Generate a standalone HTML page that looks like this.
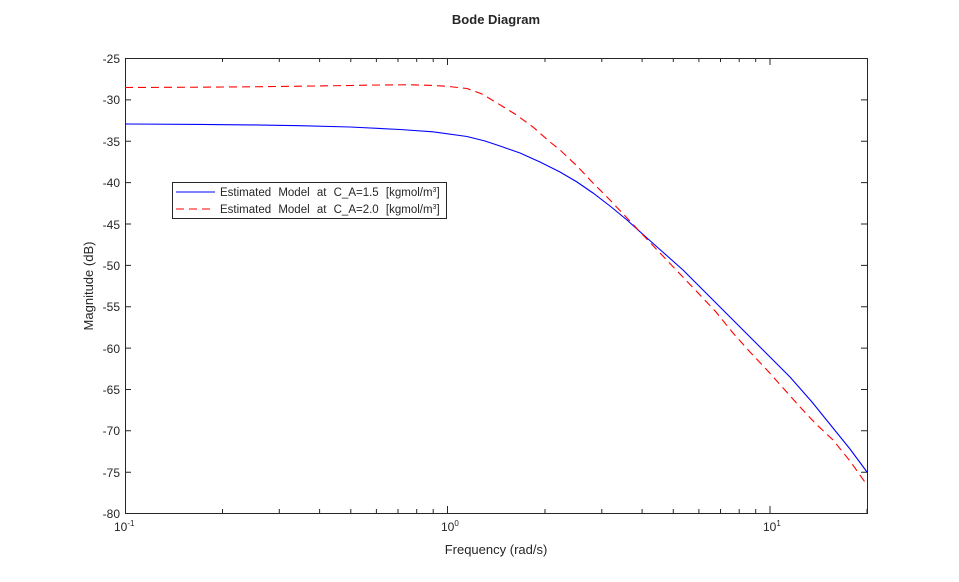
<!DOCTYPE html>
<html><head><style>
body{margin:0;background:#fff;}
svg text{font-family:"Liberation Sans",sans-serif;fill:#262626;}
</style></head><body>
<svg width="959" height="577" xmlns="http://www.w3.org/2000/svg">
<rect width="959" height="577" fill="#fff"/>
<text x="496" y="24" font-size="13" font-weight="bold" text-anchor="middle">Bode Diagram</text>
<rect x="125.5" y="58.5" width="742" height="455" fill="#fff" stroke="#262626" stroke-width="1"/>
<g stroke="#262626" stroke-width="1">
<path d="M125,58.5h6M125,99.9h6M125,141.2h6M125,182.6h6M125,224h6M125,265.4h6M125,306.7h6M125,348.1h6M125,389.5h6M125,430.8h6M125,472.2h6
M867,58.5h-6M867,99.9h-6M867,141.2h-6M867,182.6h-6M867,224h-6M867,265.4h-6M867,306.7h-6M867,348.1h-6M867,389.5h-6M867,430.8h-6M867,472.2h-6"/>
<path d="M447.5,513v-7M770,513v-7M447.5,58v7M770,58v7
M222.5,513v-4M279.3,513v-4M319.6,513v-4M350.8,513v-4M376.4,513v-4M398,513v-4M416.7,513v-4M433.2,513v-4
M545,513v-4M601.8,513v-4M642.1,513v-4M673.3,513v-4M698.9,513v-4M720.5,513v-4M739.2,513v-4M755.7,513v-4M867,513v-4
M222.5,58v4M279.3,58v4M319.6,58v4M350.8,58v4M376.4,58v4M398,58v4M416.7,58v4M433.2,58v4
M545,58v4M601.8,58v4M642.1,58v4M673.3,58v4M698.9,58v4M720.5,58v4M739.2,58v4M755.7,58v4"/>
</g>
<g font-size="12" text-anchor="end">
<text x="120" y="63">-25</text><text x="120" y="104">-30</text><text x="120" y="146">-35</text>
<text x="120" y="187">-40</text><text x="120" y="229">-45</text><text x="120" y="270">-50</text>
<text x="120" y="311">-55</text><text x="120" y="353">-60</text><text x="120" y="394">-65</text>
<text x="120" y="435">-70</text><text x="120" y="477">-75</text><text x="120" y="518">-80</text>
</g>
<g font-size="12">
<text x="114" y="531">10<tspan font-size="8" dy="-5">-1</tspan></text>
<text x="441" y="531">10<tspan font-size="8" dy="-5">0</tspan></text>
<text x="763" y="531">10<tspan font-size="8" dy="-5">1</tspan></text>
</g>
<text x="496" y="554" font-size="13" text-anchor="middle">Frequency (rad/s)</text>
<text transform="translate(93,286) rotate(-90)" font-size="13" text-anchor="middle">Magnitude (dB)</text>
<polyline fill="none" stroke="#0000ff" stroke-width="1.1" points="125,124 200,124.4 250,124.9 300,125.7 350,127 400,129.5 433,131.8 467,136.5 485,141 500,146 520,153 540,162 560,172 577,182 593,193 610,206 627,220 647,238 665,254 683,270 700,287 713,300 730,317 750,337 770,357 790,377 812,402 833,428 850,449 867,472"/>
<polyline fill="none" stroke="#ff0000" stroke-width="1.1" stroke-dasharray="8,5" points="125,87.5 200,87.2 250,86.8 300,86.2 350,85.5 380,85 410,84.8 430,85.3 447,86.3 467,88.5 482,94 497,103 515,114 533,127 550,142 560,150 577,166 593,183 610,200 627,218 643,235 660,253 680,274 700,295 716,312 733,333 750,352 767,370 784,389 800,407 816,424 833,440 850,461 867,485"/>
<rect x="172.5" y="182.5" width="274" height="36" fill="#fff" stroke="#262626" stroke-width="1"/>
<line x1="176" y1="192" x2="215" y2="192" stroke="#0000ff" stroke-width="1.1"/>
<line x1="176" y1="209" x2="215" y2="209" stroke="#ff0000" stroke-width="1.1" stroke-dasharray="8,5"/>
<g font-size="11.5" word-spacing="4">
<text x="220" y="196">Estimated Model at C_A=1.5 [kgmol/m<tspan font-size="7" dy="-4">3</tspan><tspan dy="4">]</tspan></text>
<text x="220" y="213">Estimated Model at C_A=2.0 [kgmol/m<tspan font-size="7" dy="-4">3</tspan><tspan dy="4">]</tspan></text>
</g>
</svg>
</body></html>
